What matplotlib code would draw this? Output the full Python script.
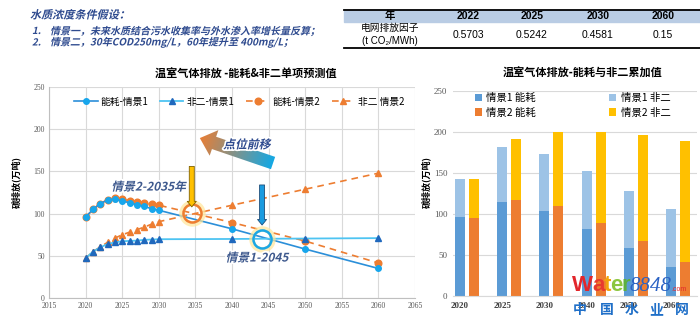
# Greenhouse gas projection: energy vs non-CO2 emissions, two water-quality scenarios
import matplotlib
matplotlib.use("Agg")
import matplotlib.pyplot as plt
import matplotlib.patheffects as pe
from matplotlib.patches import Polygon, Rectangle
from matplotlib.transforms import Affine2D
import numpy as np

plt.rcParams["font.family"] = ["Noto Sans CJK SC", "DejaVu Sans"]

# --- data ---
years = [2020, 2021, 2022, 2023, 2024, 2025, 2026, 2027, 2028, 2029, 2030, 2040, 2050, 2060]
energy_s1 = [96, 105, 112, 116, 117.5, 115, 113, 110.5, 108.5, 106, 104, 82, 58, 35]
nonco2_s1 = [47, 55, 60, 64, 66, 67.3, 67.7, 68, 69, 69.3, 69.7, 70, 70.5, 71]
energy_s2 = [95.5, 105, 112, 116.5, 118, 117, 115.5, 114, 112.5, 111, 110, 89.5, 67.5, 41.5]
nonco2_s2 = [47, 55, 60.5, 66, 71, 75, 78, 81, 84, 87.5, 90.5, 110, 129, 148]

bar_years = [2020, 2025, 2030, 2040, 2050, 2060]

table_years = ["2022", "2025", "2030", "2060"]
grid_factor = ["0.5703", "0.5242", "0.4581", "0.15"]

BLUE = "#2b8fd9"
BLUE_MK = "#17a6ec"
LBLUE = "#4ec4f2"
DBLUE_MK = "#1f68bd"
ORANGE = "#ed7d31"
TXT_BLUE = "#2f4b8f"
GRID = "#d9d9d9"
SERIF = "Liberation Serif"


class Slant(pe.AbstractPathEffect):
    """Fake italic for CJK glyphs (the font has no oblique face)."""

    def __init__(self, deg=13, halo=0.0):
        super().__init__()
        self.deg = deg
        self.halo = halo

    def draw_path(self, renderer, gc, tpath, affine, rgbFace=None):
        aff = Affine2D().skew_deg(self.deg, 0) + affine
        if self.halo:
            gc0 = renderer.new_gc()
            gc0.copy_properties(gc)
            gc0.set_linewidth(self.halo)
            gc0.set_foreground("white")
            renderer.draw_path(gc0, tpath, aff, rgbFace)
            gc0.restore()
        renderer.draw_path(gc, tpath, aff, rgbFace)


slant = [Slant()]
slant_halo = [Slant(halo=2.5)]

fig = plt.figure(figsize=(7.0, 3.25), dpi=100)

# --- top-left notes ---
fig.text(30 / 700, 1 - 15 / 325, "水质浓度条件假设：", fontsize=8, fontweight="bold",
         color=TXT_BLUE, va="center", path_effects=slant)
fig.text(32 / 700, 1 - 31 / 325, "1.", fontsize=7, fontweight="bold", color=TXT_BLUE,
         va="center", path_effects=slant)
fig.text(50 / 700, 1 - 31 / 325, "情景一，未来水质结合污水收集率与外水渗入率增长量反算；",
         fontsize=7.2, fontweight="bold", color=TXT_BLUE, va="center", path_effects=slant)
fig.text(32 / 700, 1 - 42.5 / 325, "2.", fontsize=7, fontweight="bold", color=TXT_BLUE,
         va="center", path_effects=slant)
fig.text(50 / 700, 1 - 42.5 / 325, "情景二，30年COD250mg/L，60年提升至 400mg/L；",
         fontsize=7.2, fontweight="bold", color=TXT_BLUE, va="center", path_effects=slant)

# --- top-right table ---
fig.patches.append(Rectangle((344 / 700, 1 - 22 / 325), 356 / 700, 12 / 325,
                             transform=fig.transFigure, color="#b9cce4", zorder=0))
fig.add_artist(plt.Line2D([344 / 700, 1], [1 - 10 / 325] * 2, color="black", lw=1.3))
fig.add_artist(plt.Line2D([344 / 700, 1], [1 - 48 / 325] * 2, color="black", lw=1.3))
col_x = [468, 532, 598, 663]
fig.text(390 / 700, 1 - 16 / 325, "年", fontsize=7.5, fontweight="bold", ha="center", va="center")
for cx, yr, val in zip(col_x, table_years, grid_factor):
    fig.text(cx / 700, 1 - 16 / 325, yr, fontsize=7.5, fontweight="bold", ha="center",
             va="center", family="Liberation Sans")
    fig.text(cx / 700, 1 - 35 / 325, val, fontsize=7.5, ha="center", va="center",
             family="Liberation Sans")
fig.text(390 / 700, 1 - 28 / 325, "电网排放因子", fontsize=7, ha="center", va="center")
fig.text(390 / 700, 1 - 41 / 325, "(t CO₂/MWh)", fontsize=7, ha="center", va="center",
         family=["Liberation Sans", "DejaVu Sans"])

# --- left chart: line projections ---
ax = fig.add_axes([0.07, 0.083, 0.523, 0.649])
ax.plot(years, energy_s1, color=BLUE, lw=1.2, marker="o", ms=4, mfc=BLUE_MK, mec=BLUE_MK,
        label="能耗-情景1", zorder=4)
ax.plot(years, nonco2_s1, color=LBLUE, lw=1.3, marker="^", ms=4, mfc=DBLUE_MK, mec=DBLUE_MK,
        label="非二-情景1", zorder=4)
ax.plot(years, energy_s2, color=ORANGE, lw=1.2, ls=(0, (4, 3)), marker="o", ms=4.8,
        mfc=ORANGE, mec=ORANGE, label="能耗-情景2", zorder=3)
ax.plot(years, nonco2_s2, color=ORANGE, lw=1.2, ls=(0, (4, 3)), marker="^", ms=4.2,
        mfc=ORANGE, mec=ORANGE, label="非二 情景2", zorder=3)
ax.set_xlim(2015, 2065)
ax.set_ylim(0, 250)
ax.set_xticks(range(2015, 2066, 5))
ax.set_yticks(range(0, 251, 50))
ax.grid(True, color=GRID, lw=0.8)
ax.set_axisbelow(True)
for s in ["top", "right"]:
    ax.spines[s].set_visible(False)
for s in ["left", "bottom"]:
    ax.spines[s].set_color("#bfbfbf")
ax.tick_params(length=0, labelsize=5.5, pad=3)
for lab in ax.get_xticklabels() + ax.get_yticklabels():
    lab.set_fontfamily(SERIF)
    lab.set_color("#595959")
ax.legend(loc="center", bbox_to_anchor=(0.52, 0.93), ncol=4, frameon=False, fontsize=7,
          handlelength=2.4, columnspacing=1.2, handletextpad=0.3)

fig.text(246 / 700, 1 - 74 / 325, "温室气体排放 -能耗&非二单项预测值", fontsize=8,
         fontweight="bold", ha="center", va="center")
fig.text(16 / 700, 0.44, "碳排放(万吨)", fontsize=6.5, fontweight="bold", rotation=90,
         ha="center", va="center")

# highlight circles with glow
for (cx, cy), col in [((2034.5, 100.7), ORANGE), ((2044.1, 70.0), "#1aa7e6")]:
    ax.plot(cx, cy, marker="o", ms=15, mfc="none", mec="#ffe699", mew=4, alpha=0.7, zorder=5)
    ax.plot(cx, cy, marker="o", ms=13, mfc="none", mec=col, mew=1.8, zorder=6)

# vertical pointer arrows
arrow_style = "simple,head_width=0.65,head_length=0.4,tail_width=0.36"
ax.annotate("", xy=(2034.5, 108), xytext=(2034.5, 156),
            arrowprops=dict(arrowstyle=arrow_style, fc="#ffc000", ec="#7f6000", lw=0.6,
                            shrinkA=0, shrinkB=0, mutation_scale=10), zorder=7)
ax.annotate("", xy=(2044.1, 86.5), xytext=(2044.1, 134),
            arrowprops=dict(arrowstyle=arrow_style, fc="#1a9be0", ec="#1f4e79", lw=0.6,
                            shrinkA=0, shrinkB=0, mutation_scale=10), zorder=7)

ax.text(2028.6, 131.5, "情景2-2035年", fontsize=8.5, fontweight="bold", color="#3f5a8e",
        ha="center", va="center", path_effects=slant_halo, zorder=8)
ax.text(2043.4, 47.4, "情景1-2045", fontsize=8.5, fontweight="bold", color="#3f5a8e",
        ha="center", va="center", path_effects=slant_halo, zorder=8)

# --- right chart: stacked totals ---
axr = fig.add_axes([0.647, 0.089, 0.349, 0.631])
idx = [years.index(y) for y in bar_years]
b_e1 = np.array([energy_s1[i] for i in idx])
b_n1 = np.array([nonco2_s1[i] for i in idx])
b_e2 = np.array([energy_s2[i] for i in idx])
b_n2 = np.array([nonco2_s2[i] for i in idx])
x = np.arange(len(bar_years))
off, w = 0.165, 0.24
axr.bar(x - off, b_e1, w, color="#5b9bd5", label="情景1 能耗")
axr.bar(x - off, b_n1, w, bottom=b_e1, color="#9dc3e6", label="情景1 非二")
axr.bar(x + off, b_e2, w, color=ORANGE, label="情景2 能耗")
axr.bar(x + off, b_n2, w, bottom=b_e2, color="#ffc000", label="情景2 非二")
axr.set_xlim(-0.33, 5.45)
axr.set_ylim(0, 250)
axr.set_yticks(range(0, 251, 50))
axr.set_xticks(x - off)
axr.set_xticklabels([str(y) for y in bar_years])
axr.yaxis.grid(True, color=GRID, lw=0.8)
axr.set_axisbelow(True)
for s in ["top", "right", "left"]:
    axr.spines[s].set_visible(False)
axr.spines["bottom"].set_color(GRID)
axr.tick_params(length=0, labelsize=6.5, pad=4)
for lab in axr.get_yticklabels():
    lab.set_fontfamily(SERIF)
    lab.set_color("#595959")
for lab in axr.get_xticklabels():
    lab.set_fontfamily(SERIF)
    lab.set_color("#404040")
    lab.set_fontweight("bold")
h, l = axr.get_legend_handles_labels()
order = [0, 2, 1, 3]
axr.legend([h[i] for i in order], [l[i] for i in order], loc="center",
           bbox_to_anchor=(0.49, 0.93), ncol=2, frameon=False, fontsize=7.5,
           handlelength=0.7, handleheight=0.7, handletextpad=0.4, columnspacing=7.0,
           labelspacing=0.45)
fig.text(583 / 700, 1 - 73 / 325, "温室气体排放-能耗与非二累加值", fontsize=8,
         fontweight="bold", ha="center", va="center")
fig.text(426 / 700, 0.44, "碳排放(万吨)", fontsize=6.5, fontweight="bold", rotation=90,
         ha="center", va="center")

# --- overlay in pixel space for the gradient arrow and watermark ---
ov = fig.add_axes([0, 0, 1, 1], zorder=10)
ov.set_axis_off()
ov.patch.set_alpha(0)


def to_px(pt):
    disp = ax.transData.transform(pt)
    return np.array([disp[0], 325 - disp[1]])


tip = to_px((2035.6, 189.6))
tail = to_px((2045.6, 160.0))
u = (tip - tail) / np.linalg.norm(tip - tail)
n = np.array([-u[1], u[0]])
w1, w2, hl = 6.5, 13.5, 15.0
hb = tip - u * hl
pts = [tail + n * w1, hb + n * w1, hb + n * w2, tip, hb - n * w2, hb - n * w1, tail - n * w1]
poly = Polygon(pts, closed=True, fc="none", ec="none")
ov.add_patch(poly)
xs = [p[0] for p in pts]
ys = [p[1] for p in pts]
x0, x1, y0, y1 = min(xs) - 2, max(xs) + 2, min(ys) - 2, max(ys) + 2
gx, gy = np.meshgrid(np.linspace(x0, x1, 120), np.linspace(y0, y1, 80))
t = ((gx - tail[0]) * u[0] + (gy - tail[1]) * u[1]) / np.linalg.norm(tip - tail)
t = np.clip(t, 0, 1)[..., None]
c_tail = np.array([18, 169, 230]) / 255
c_head = np.array([233, 126, 53]) / 255
img = c_tail * (1 - t) + c_head * t
im = ov.imshow(img, extent=[x0, x1, y0, y1], origin="lower", aspect="auto",
               interpolation="bilinear")
im.set_clip_path(poly)
ov.set_xlim(0, 700)
ov.set_ylim(325, 0)

lbl = to_px((2042.0, 181.5))
ov.text(lbl[0], lbl[1], "点位前移", fontsize=8.5, fontweight="bold", color=TXT_BLUE,
        ha="center", va="center", path_effects=slant_halo, zorder=12)

# watermark
renderer = fig.canvas.get_renderer()
cur = 572
for ch, col in [("W", "#e2262b"), ("a", "#e83a2e"), ("t", "#f2a20c"), ("e", "#8cc63f"),
                ("r", "#5cb040")]:
    tx = ov.text(cur, 291, ch, fontsize=16, fontweight="bold", color=col,
                 family="Liberation Sans", ha="left", va="baseline")
    cur += tx.get_window_extent(renderer).width - 1
tx = ov.text(cur + 1, 291, "8848", fontsize=15, style="italic", color="#2a62c4",
             family="Liberation Serif", ha="left", va="baseline")
cur += tx.get_window_extent(renderer).width + 1
ov.text(cur, 291, ".com", fontsize=5, color="#e2262b", family="Liberation Sans",
        ha="left", va="baseline")
for cx, ch in zip([580, 607, 632, 656, 682], "中国水业网"):
    ov.text(cx, 310, ch, fontsize=10, fontweight="bold", color="#1f6fc8",
            ha="center", va="center")

fig.savefig("out.png", dpi=100)
